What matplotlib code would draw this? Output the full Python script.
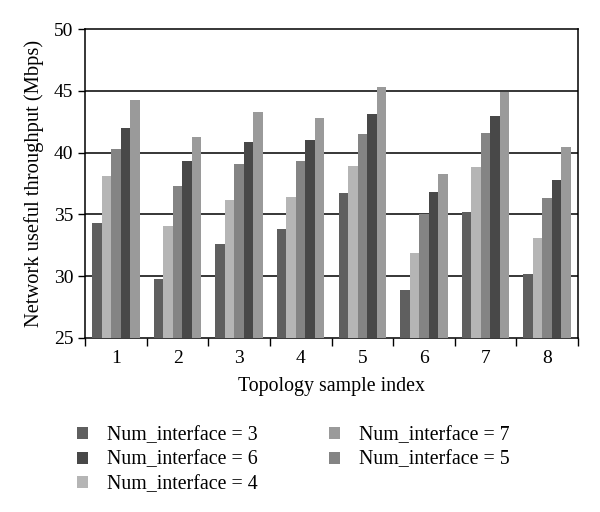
import matplotlib
matplotlib.use("Agg")
import matplotlib.pyplot as plt
import numpy as np
from matplotlib.patches import Patch

categories = ["1", "2", "3", "4", "5", "6", "7", "8"]
series_names = ["Num_interface = 3", "Num_interface = 4", "Num_interface = 5",
                "Num_interface = 6", "Num_interface = 7"]
ni3 = [34.3, 29.8, 32.6, 33.8, 36.7, 28.9, 35.2, 30.2]
ni4 = [38.1, 34.1, 36.2, 36.4, 38.9, 31.9, 38.8, 33.1]
ni5 = [40.3, 37.3, 39.1, 39.3, 41.5, 35.0, 41.6, 36.3]
ni6 = [42.0, 39.3, 40.9, 41.0, 43.1, 36.8, 43.0, 37.8]
ni7 = [44.3, 41.3, 43.3, 42.8, 45.3, 38.3, 44.9, 40.5]
series = [ni3, ni4, ni5, ni6, ni7]
colors = ["#5f5f5f", "#b5b5b5", "#848484", "#484848", "#9a9a9a"]
legend_order = [0, 3, 1, 4, 2]

plt.rcParams['font.family'] = ['Liberation Serif', 'DejaVu Serif']

fig = plt.figure(figsize=(6.0, 5.12), dpi=100)
ax = fig.add_axes([0.142, 0.340, 0.821, 0.603])

x = np.arange(1, len(categories) + 1)
w = 0.154
for i, (vals, c) in enumerate(zip(series, colors)):
    ax.bar(x + (i - 2) * w, np.array(vals) - 25, bottom=25, width=w, color=c,
           edgecolor='none', zorder=3)

ax.set_ylim(25, 50)
ax.set_xlim(0.5, len(categories) + 0.5)
ax.set_yticks([25, 30, 35, 40, 45, 50])
ax.tick_params(axis='y', labelsize=14, length=5, width=1, direction='out', color='black')
for yv in [30, 35, 40, 45]:
    ax.axhline(yv, color='black', lw=1.1, zorder=1)

ax.set_xticks(np.arange(0.5, len(categories) + 1, 1.0))
ax.set_xticklabels([])
ax.tick_params(axis='x', which='major', length=6, width=1, direction='out')
ax.set_xticks(x, minor=True)
ax.set_xticklabels(categories, minor=True)
ax.tick_params(axis='x', which='minor', length=0, labelsize=14, pad=9)

for s in ax.spines.values():
    s.set_color('black')
    s.set_linewidth(1.1)

ax.set_ylabel("Network useful throughput (Mbps)", fontsize=14.8, labelpad=7)
ax.set_xlabel("Topology sample index", fontsize=14.3, labelpad=7)

handles = [Patch(facecolor=colors[i], edgecolor='none') for i in legend_order]
labels = [series_names[i] for i in legend_order]
fig.legend(handles, labels, loc='upper left', bbox_to_anchor=(0.128, 0.168),
           ncol=2, frameon=False, fontsize=14.3, handlelength=0.55, handleheight=0.55,
           handletextpad=0.95, columnspacing=3.6, labelspacing=0.28,
           borderaxespad=0, borderpad=0)

fig.savefig("out.png", dpi=100, facecolor='white')
